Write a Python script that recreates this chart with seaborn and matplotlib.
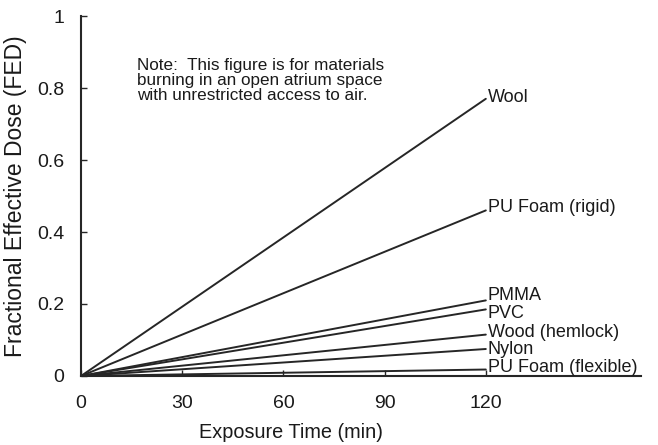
import matplotlib
matplotlib.use("Agg")
import matplotlib.pyplot as plt
import seaborn as sns
import pandas as pd

# ---- data ----
materials = ["Wool", "PU Foam (rigid)", "PMMA", "PVC",
             "Wood (hemlock)", "Nylon", "PU Foam (flexible)"]
times = [0, 120]
fed_start = [0, 0, 0, 0, 0, 0, 0]
fed_end = [0.77, 0.46, 0.21, 0.185, 0.115, 0.075, 0.018]
x_ticks = [0, 30, 60, 90, 120]
y_ticks = [0, 0.2, 0.4, 0.6, 0.8, 1]
y_tick_labels = ["0", "0.2", "0.4", "0.6", "0.8", "1"]
note = ("Note:  This figure is for materials\n"
        "burning in an open atrium space\n"
        "with unrestricted access to air.")

# label vertical nudges (layout only)
label_dy = [0.004, 0.008, 0.013, -0.01, 0.007, 0.0, 0.006]

rows = []
for m, s, e in zip(materials, fed_start, fed_end):
    rows.append({"material": m, "time": times[0], "fed": s})
    rows.append({"material": m, "time": times[1], "fed": e})
df = pd.DataFrame(rows)

sns.set_theme(style="ticks")
plt.rcParams["font.family"] = ["Liberation Sans", "DejaVu Sans"]

fig = plt.figure(figsize=(6.58, 4.45), dpi=100)
ax = fig.add_axes([81 / 658, 1 - 376 / 445, 560 / 658, 360 / 445])

ink = "#262626"
sns.lineplot(data=df, x="time", y="fed", hue="material",
             palette=[ink] * len(materials), legend=False,
             linewidth=1.4, ax=ax)

for m, e, dy in zip(materials, fed_end, label_dy):
    ax.text(120.6, e + dy, m, ha="left", va="center",
            fontsize=13, color="#1a1a1a")

ax.text(16.6, 0.884, note, ha="left", va="top", fontsize=12.3,
        color="#1a1a1a", linespacing=1.02)

ax.set_xlim(0, 166)
ax.set_ylim(0, 1)
ax.set_xticks(x_ticks)
ax.set_xticklabels([str(t) for t in x_ticks])
ax.set_yticks(y_ticks)
ax.set_yticklabels(y_tick_labels)

ax.tick_params(axis="both", direction="in", length=4, width=1,
               color=ink, labelsize=14, labelcolor="#1a1a1a")
ax.tick_params(axis="x", pad=14)
ax.tick_params(axis="y", pad=12)

sns.despine(ax=ax)
for side in ["left", "bottom"]:
    ax.spines[side].set_color(ink)
    ax.spines[side].set_linewidth(1.5)

ax.set_xlabel("Exposure Time (min)", fontsize=14.3, color="#1a1a1a")
ax.set_ylabel("Fractional Effective Dose (FED)", fontsize=16.5,
              color="#1a1a1a")
ax.xaxis.set_label_coords(0.375, -0.13)
ax.yaxis.set_label_coords(-0.096, 0.5)

fig.savefig("out.png", dpi=100, facecolor="white")
